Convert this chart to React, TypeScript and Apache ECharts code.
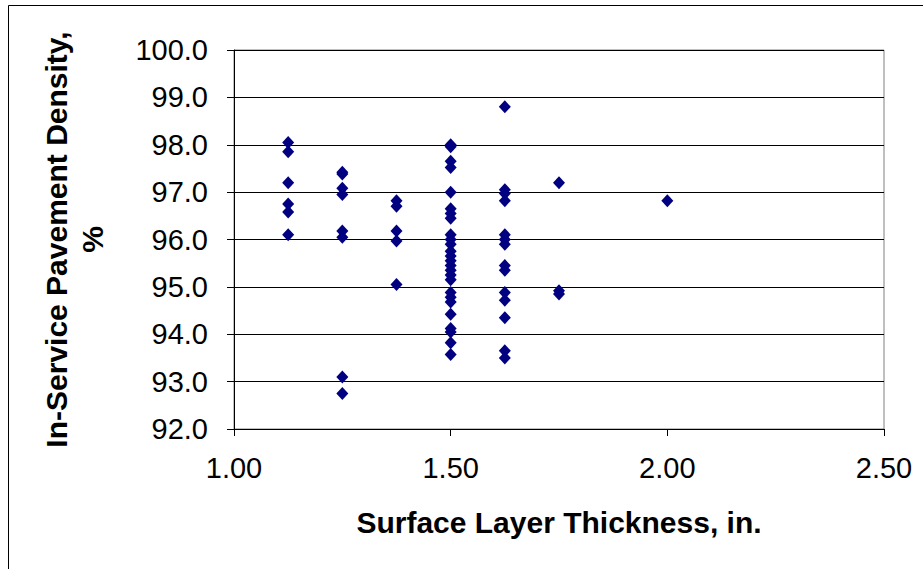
import React, { useEffect, useRef } from "react";
import * as echarts from "echarts";

// Surface layer thickness values (in.) for each column of points
const thicknessLevels = [1.125, 1.25, 1.375, 1.5, 1.625, 1.75, 2.0];

// In-service pavement density (%) read at each thickness
const densityAt1125 = [98.05, 97.85, 97.2, 96.75, 96.58, 96.1];
const densityAt1250 = [97.42, 97.38, 97.08, 96.95, 96.18, 96.05, 93.1, 92.75];
const densityAt1375 = [96.82, 96.7, 96.18, 95.97, 95.05];
const densityAt1500 = [
  98.0, 97.96, 97.65, 97.52, 97.0, 96.65, 96.55, 96.45, 96.1, 96.0, 95.9, 95.75,
  95.65, 95.55, 95.45, 95.35, 95.25, 95.15, 94.88, 94.78, 94.68, 94.42, 94.12,
  94.05, 93.82, 93.57,
];
const densityAt1625 = [
  98.8, 97.05, 96.97, 96.82, 96.1, 96.0, 95.9, 95.45, 95.35, 94.88, 94.72, 94.35,
  93.65, 93.5,
];
const densityAt1750 = [97.2, 94.92, 94.85];
const densityAt2000 = [96.82];

const densityColumns = [
  densityAt1125,
  densityAt1250,
  densityAt1375,
  densityAt1500,
  densityAt1625,
  densityAt1750,
  densityAt2000,
];

const xAxisTitle = "Surface Layer Thickness, in.";
const yAxisTitle = "In-Service Pavement Density,\n%";

export default function App() {
  const ref = useRef<HTMLDivElement>(null);

  useEffect(() => {
    document.body.style.margin = "0";
    if (!ref.current) return;
    const chart = echarts.init(ref.current, null, { renderer: "svg" });

    const points: number[][] = [];
    thicknessLevels.forEach((x, i) => {
      densityColumns[i].forEach((y) => points.push([x, y]));
    });

    const font = "'Liberation Sans', Arial, sans-serif";

    chart.setOption({
      animation: false,
      backgroundColor: "#ffffff",
      graphic: [
        {
          type: "rect",
          shape: { x: 8.5, y: 5.5, width: 1000, height: 1000 },
          style: { fill: "none", stroke: "#000", lineWidth: 1 },
          silent: true,
          z: -10,
        },
      ],
      grid: {
        left: 234,
        right: 39,
        top: 50,
        bottom: 140,
        show: true,
        borderColor: "#808080",
        borderWidth: 1,
      },
      xAxis: {
        type: "value",
        min: 1,
        max: 2.5,
        interval: 0.5,
        name: xAxisTitle,
        nameLocation: "middle",
        nameGap: 78,
        nameTextStyle: {
          fontFamily: font,
          fontWeight: "bold",
          fontSize: 30,
          color: "#000",
        },
        axisLine: { show: true, onZero: false, lineStyle: { color: "#000", width: 1 } },
        axisTick: { show: true, inside: false, length: 7, lineStyle: { color: "#000" } },
        axisLabel: {
          fontFamily: font,
          fontSize: 29,
          color: "#000",
          margin: 24,
          formatter: (v: number) => v.toFixed(2),
        },
        splitLine: { show: false },
      },
      yAxis: {
        type: "value",
        min: 92,
        max: 100,
        interval: 1,
        name: yAxisTitle,
        nameLocation: "middle",
        nameRotate: 90,
        nameGap: 124,
        nameTextStyle: {
          fontFamily: font,
          fontWeight: "bold",
          fontSize: 30,
          color: "#000",
          lineHeight: 36,
        },
        axisLine: { show: true, onZero: false, lineStyle: { color: "#000", width: 1 } },
        axisTick: { show: true, inside: false, length: 7, lineStyle: { color: "#000" } },
        axisLabel: {
          fontFamily: font,
          fontSize: 29,
          color: "#000",
          margin: 26,
          formatter: (v: number) => v.toFixed(1),
        },
        splitLine: { show: true, lineStyle: { color: "#000", width: 1 } },
      },
      series: [
        {
          type: "scatter",
          data: points,
          symbol: "diamond",
          symbolSize: [12, 13],
          itemStyle: { color: "#000080", opacity: 1 },
        },
      ],
    });

    return () => chart.dispose();
  }, []);

  return <div ref={ref} style={{ width: 923, height: 569 }} />;
}
